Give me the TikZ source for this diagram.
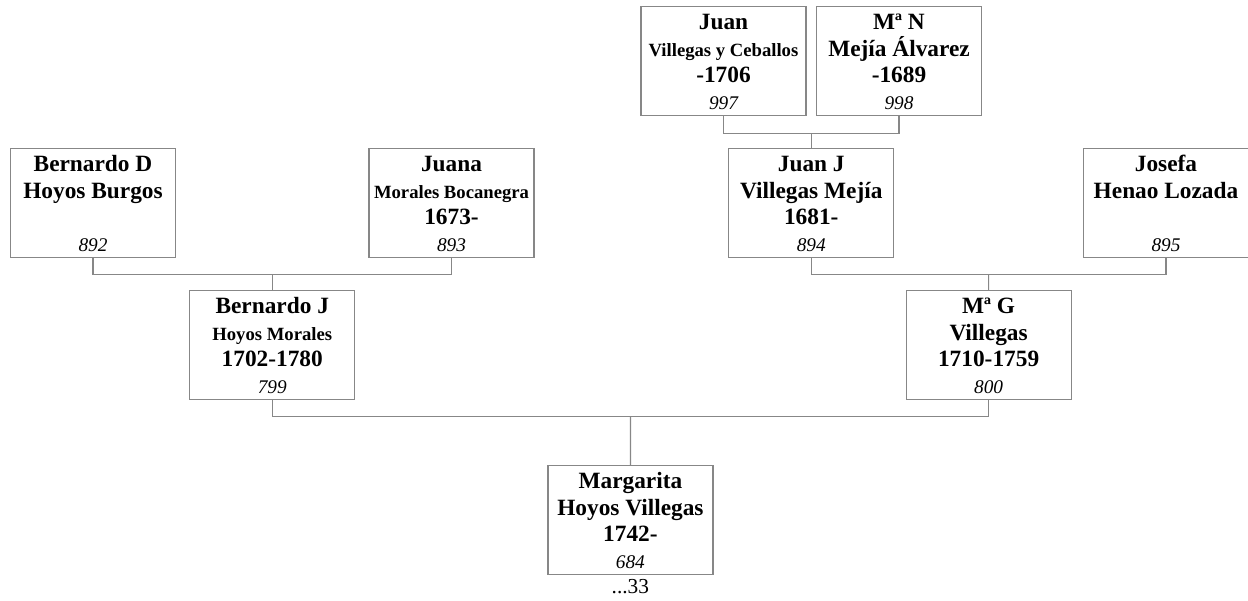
\documentclass[tikz,border=0pt]{standalone}
\usepackage{fontspec}
\setmainfont{Liberation Serif}
\usetikzlibrary{positioning,calc}

\definecolor{borde}{RGB}{135,135,135}

\newcommand{\chico}[1]{{\fontsize{14pt}{20pt}\selectfont #1}}
\newcommand{\ficha}[4]{%
  \begin{minipage}[t][81.75pt][t]{123.75pt}
    \centering\fontsize{17.5pt}{20pt}\selectfont\bfseries
    \rule{0pt}{17.25pt}#1\\
    #2\mbox{}\\
    #3\mbox{}\\
    {\fontsize{14.5pt}{20pt}\selectfont\mdseries\itshape #4}
  \end{minipage}}

\begin{document}
\begin{tikzpicture}[
      x=0.75pt, y=-0.75pt,
      persona/.style={draw=borde, line width=0.9pt, inner sep=0pt, anchor=north, fill=white},
      linea/.style={draw=borde, line width=0.9pt}
    ]
    \useasboundingbox (0,0) rectangle (1248,600);

    \node[persona] (p997) at (723.5,6) {\ficha{Juan}{\chico{Villegas y Ceballos}}{-1706}{997}};
    \node[persona] (p998) at (899,6) {\ficha{Mª N}{Mejía Álvarez}{-1689}{998}};

    \node[persona] (p892) at (93,148) {\ficha{Bernardo D}{Hoyos Burgos}{}{892}};
    \node[persona] (p893) at (451.5,148) {\ficha{Juana}{\chico{Morales Bocanegra}}{1673-}{893}};
    \node[persona] (p894) at (811.25,148) {\ficha{Juan J}{Villegas Mejía}{1681-}{894}};
    \node[persona] (p895) at (1166,148) {\ficha{Josefa}{Henao Lozada}{}{895}};

    \node[persona] (p799) at (272.25,290) {\ficha{Bernardo J}{\chico{Hoyos Morales}}{1702-1780}{799}};
    \node[persona] (p800) at (988.6,290) {\ficha{Mª G}{Villegas}{1710-1759}{800}};

    \node[persona] (p684) at (630.4,465) {\ficha{Margarita}{Hoyos Villegas}{1742-}{684}};
    \node[below=2pt of p684, inner sep=1pt, font=\fontsize{16pt}{18pt}\selectfont] (p684n) {...33};

    % uniones
    \coordinate (f1) at ($(p892.south)!.5!(p893.south)+(0,16)$);
    \coordinate (f2) at ($(p997.south)!.5!(p998.south)+(0,17)$);
    \coordinate (f3) at ($(p894.south)!.5!(p895.south)+(0,16)$);
    \coordinate (f4) at ($(p799.south)!.5!(p800.south)+(0,16)$);

    \draw[linea] (p892.south) |- (f1) -| (p893.south);
    \draw[linea] (f1) -- (p799.north);
    \draw[linea] (p997.south) |- (f2) -| (p998.south);
    \draw[linea] (f2) -- (p894.north);
    \draw[linea] (p894.south) |- (f3) -| (p895.south);
    \draw[linea] (f3) -- (p800.north);
    \draw[linea] (p799.south) |- (f4) -| (p800.south);
    \draw[linea] (f4) -- (p684.north);
  \end{tikzpicture}
\end{document}
